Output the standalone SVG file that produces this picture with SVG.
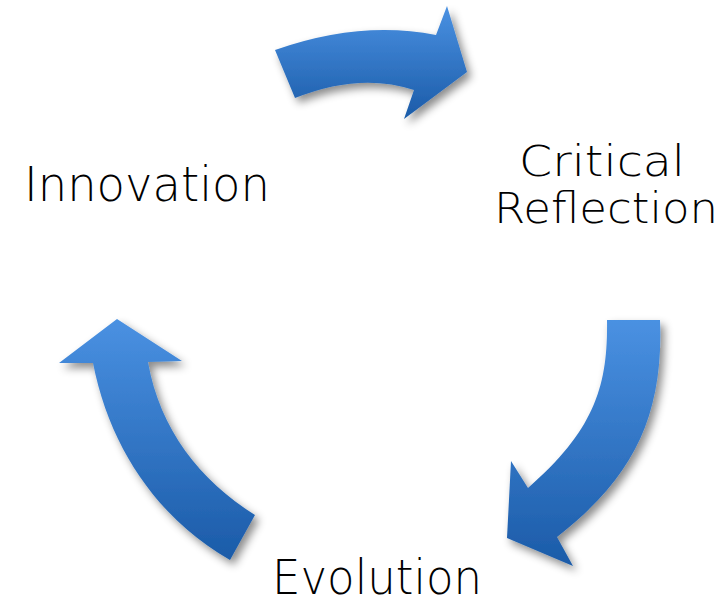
<svg xmlns="http://www.w3.org/2000/svg" width="726" height="598" viewBox="0 0 726 598">
  <style>
    .arrow { fill: url(#blue); filter: url(#shadow); }
    .label { font-family: "DejaVu Sans", "Liberation Sans", sans-serif; font-weight: 300; fill: #000000; }
  </style>
  <defs>
    <linearGradient id="blue" x1="0" y1="0" x2="0" y2="1">
      <stop offset="0" stop-color="#4a91e2"/>
      <stop offset="1" stop-color="#1b5ba8"/>
    </linearGradient>
    <filter id="shadow" x="-20%" y="-20%" width="150%" height="150%">
      <feDropShadow dx="4" dy="5" stdDeviation="4" flood-color="#000000" flood-opacity="0.45"/>
    </filter>
  </defs>
  <rect width="726" height="598" fill="#ffffff"/>
  <g id="connectors">
    <path id="arrow-top" class="arrow" d="M275,50 Q360,20 436,35 L447,6 L467,72 L404,119 L414,90 Q360,72 295,98 Z"/>
    <path id="arrow-right" class="arrow" d="M607,320 L660,320 C664,420 630,480 557,537 L573,566 L507,538 L511,461 L528,488 C595,430 608,385 607,320 Z"/>
    <path id="arrow-left" class="arrow" d="M59,363 L117,319 L182,361 L148,362 C160,430 200,480 255,515 L230,560 C160,520 110,450 93,363 Z"/>
  </g>
  <g id="node-innovation">
    <text class="label" x="24" y="201" font-size="48" textLength="246" lengthAdjust="spacingAndGlyphs">Innovation</text>
  </g>
  <g id="node-critical-reflection">
    <text class="label" x="519" y="176" font-size="43" textLength="166" lengthAdjust="spacingAndGlyphs">Critical</text>
    <text class="label" x="494" y="223" font-size="43" textLength="224" lengthAdjust="spacingAndGlyphs">Reflection</text>
  </g>
  <g id="node-evolution">
    <text class="label" x="272" y="594" font-size="48" textLength="210" lengthAdjust="spacingAndGlyphs">Evolution</text>
  </g>
</svg>
